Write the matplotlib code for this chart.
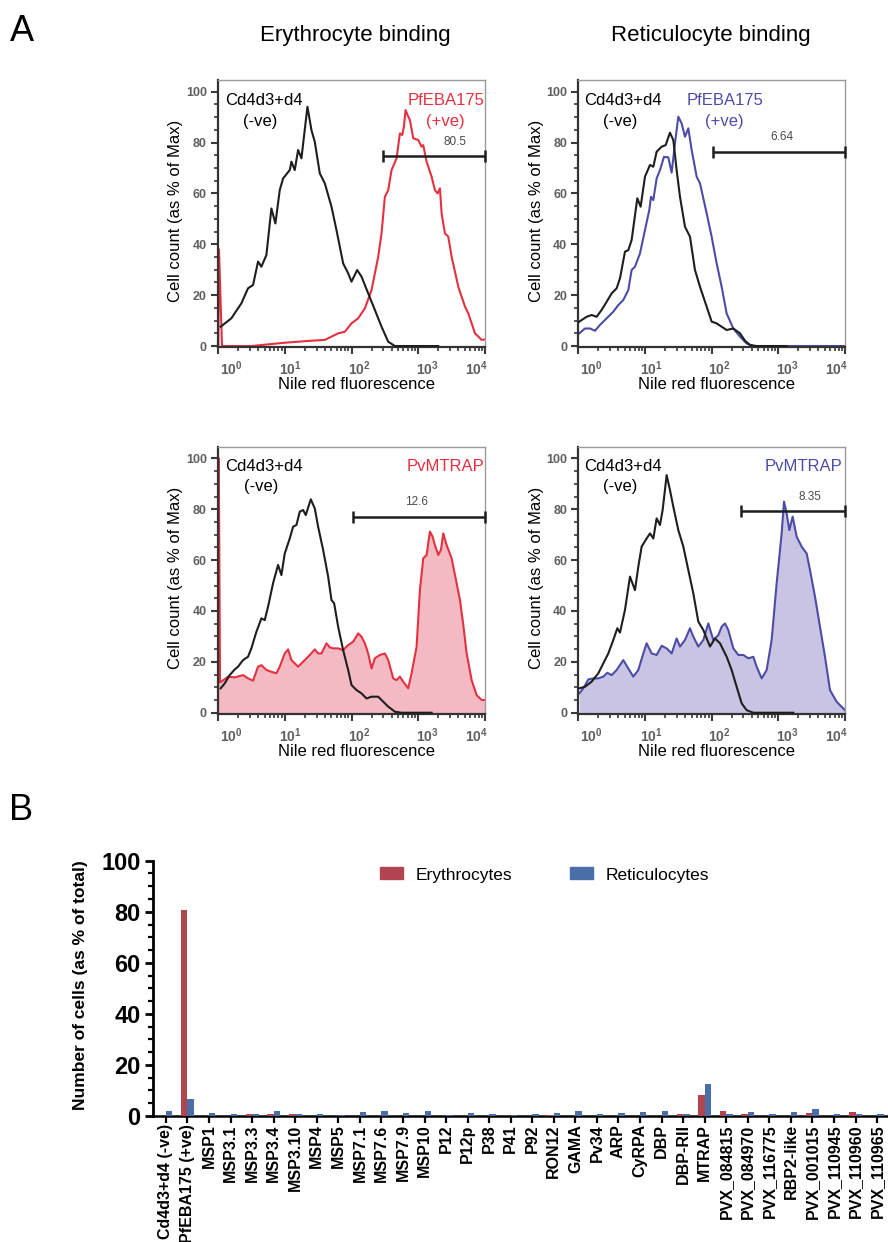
import numpy as np
import matplotlib
matplotlib.use("Agg")
import matplotlib.pyplot as plt
from matplotlib.ticker import FixedLocator, MultipleLocator, NullFormatter
from matplotlib.transforms import ScaledTranslation
from matplotlib.patches import Patch

plt.rcParams["font.family"] = ["Liberation Sans", "DejaVu Sans"]
plt.rcParams["mathtext.fontset"] = "custom"
plt.rcParams["mathtext.rm"] = "Liberation Sans"
plt.rcParams["mathtext.bf"] = "Liberation Sans:bold"
plt.rcParams["mathtext.it"] = "Liberation Sans:italic"

# ---------------------------------------------------------------------------
# Flow cytometry histograms: log10(Nile red fluorescence) vs % of max
# ---------------------------------------------------------------------------
# Erythrocyte binding, control vs PfEBA175
ery_ctrl1_log = [0.04, 0.20, 0.35, 0.45, 0.525, 0.60, 0.65, 0.725, 0.80, 0.86, 0.925, 0.975,
                 1.075, 1.10, 1.15, 1.20, 1.25, 1.34, 1.40, 1.45, 1.525, 1.60, 1.70, 1.775,
                 1.875, 1.95, 2.00, 2.085, 2.15, 2.25, 2.35, 2.45, 2.55, 2.65, 3.30]
ery_ctrl1_pct = [7.6, 10.9, 16.8, 22.7, 24.0, 33.2, 31.2, 35.8, 54.1, 48.2, 61.3, 65.9,
                 69.2, 72.5, 69.2, 77.1, 73.8, 94.1, 84.9, 80.3, 67.9, 64.0, 54.8, 45.6,
                 32.5, 28.6, 25.3, 29.9, 27.3, 20.7, 14.2, 7.6, 1.7, 0.0, 0.0]
ery_eba_log = [0.005, 0.015, 0.06, 0.5, 1.0, 1.4, 1.6, 1.8, 1.9, 2.0, 2.1, 2.2, 2.3, 2.4,
               2.45, 2.5, 2.55, 2.6, 2.675, 2.725, 2.76, 2.785, 2.81, 2.85, 2.875, 2.925,
               3.0, 3.05, 3.075, 3.125, 3.2, 3.25, 3.29, 3.325, 3.35, 3.4, 3.45, 3.5, 3.6,
               3.7, 3.75, 3.85, 3.95, 4.0]
ery_eba_pct = [0.0, 38.0, 0.0, 0.0, 1.3, 2.1, 2.4, 5.0, 5.6, 8.9, 10.9, 14.8, 22.0, 35.1,
               44.3, 58.7, 61.3, 69.2, 73.8, 83.6, 83.0, 86.2, 92.8, 90.2, 88.9, 81.7,
               81.0, 78.4, 79.0, 72.5, 66.6, 61.3, 60.0, 62.0, 52.2, 44.3, 43.0, 35.1, 23.3,
               15.5, 12.8, 5.0, 2.4, 2.6]

# Reticulocyte binding, control vs PfEBA175
ret_ctrl1_log = [0.015, 0.125, 0.2, 0.275, 0.35, 0.425, 0.5, 0.575, 0.625, 0.7, 0.75, 0.8,
                 0.885, 0.935, 1.0, 1.075, 1.125, 1.175, 1.25, 1.31, 1.375, 1.425, 1.475,
                 1.525, 1.6, 1.675, 1.75, 1.825, 1.925, 2.0, 2.075, 2.15, 2.225, 2.325,
                 2.425, 2.5, 2.575, 2.675, 3.125]
ret_ctrl1_pct = [9.6, 11.5, 12.2, 11.5, 14.2, 17.4, 20.7, 22.7, 26.6, 37.1, 37.7, 41.7,
                 58.1, 54.8, 66.6, 71.2, 70.5, 76.4, 78.4, 79.0, 83.9, 81.0, 69.2,
                 58.7, 46.9, 43.0, 29.9, 23.3, 15.5, 9.6, 8.9, 7.6, 6.3, 6.9,
                 5.0, 2.1, 0.4, 0.0, 0.0]
ret_eba_log = [0.015, 0.1, 0.175, 0.25, 0.325, 0.425, 0.525, 0.6, 0.675, 0.75, 0.8, 0.85,
               0.925, 1.0, 1.065, 1.09, 1.125, 1.175, 1.225, 1.285, 1.35, 1.4, 1.45, 1.5,
               1.55, 1.6, 1.65, 1.7, 1.775, 1.825, 1.925, 2.0, 2.075, 2.15, 2.225, 2.325,
               2.425, 2.525, 2.625, 4.0]
ret_eba_pct = [5.0, 6.9, 6.9, 6.0, 8.3, 10.9, 13.5, 16.1, 18.1, 22.0, 29.9, 31.2,
               36.4, 45.6, 53.5, 58.7, 57.4, 65.9, 69.2, 74.4, 74.2, 68.2, 79.7, 90.2,
               87.5, 82.3, 85.6, 77.1, 66.6, 64.0, 52.2, 43.0, 32.5, 23.3, 12.8, 6.9,
               3.7, 1.0, 0.0, 0.0]

# Erythrocyte binding, control vs PvMTRAP
ery_ctrl2_log = [0.04, 0.1, 0.175, 0.25, 0.3, 0.375, 0.45, 0.5, 0.575, 0.65, 0.7, 0.75,
                 0.825, 0.9, 0.95, 1.0, 1.075, 1.125, 1.175, 1.225, 1.275, 1.315, 1.39,
                 1.45, 1.5, 1.575, 1.65, 1.7, 1.74, 1.8, 1.875, 1.95, 2.0, 2.075, 2.15,
                 2.225, 2.3, 2.4, 2.45, 2.55, 2.65, 2.75, 3.2]
ery_ctrl2_pct = [9.6, 11.5, 14.8, 17.0, 18.1, 20.7, 22.0, 25.3, 31.8, 37.1, 36.4, 41.7,
                 50.9, 58.1, 54.1, 62.6, 68.5, 73.1, 73.8, 79.0, 79.7, 77.7, 83.9,
                 80.3, 73.1, 64.0, 53.5, 44.3, 43.0, 33.8, 24.6, 16.8, 10.9, 8.9, 7.6,
                 5.6, 6.3, 6.3, 5.0, 2.4, 0.4, 0.0, 0.0]
ery_mtrap_log = [0.0, 0.012, 0.03, 0.05, 0.15, 0.25, 0.375, 0.45, 0.525, 0.6, 0.65, 0.725,
                 0.8, 0.875, 0.925, 1.0, 1.05, 1.1, 1.2, 1.3, 1.375, 1.45, 1.5, 1.55,
                 1.625, 1.675, 1.725, 1.8, 1.875, 1.95, 2.025, 2.1, 2.15, 2.2, 2.25, 2.3,
                 2.35, 2.425, 2.5, 2.55, 2.625, 2.675, 2.725, 2.775, 2.85, 2.9, 2.975,
                 3.025, 3.075, 3.125, 3.175, 3.215, 3.25, 3.3, 3.34, 3.375, 3.425, 3.5,
                 3.575, 3.625, 3.675, 3.725, 3.8, 3.875, 3.95, 4.0]
ery_mtrap_pct = [0.0, 100.0, 12.0, 12.2, 14.2, 13.9, 14.8, 13.5, 12.6, 18.1, 18.7, 16.8,
                 16.1, 15.5, 18.1, 23.3, 24.9, 20.7, 18.1, 20.7, 22.7, 24.9, 23.3, 23.3,
                 27.3, 25.7, 25.3, 25.3, 24.6, 26.6, 27.9, 31.2, 29.9, 27.3, 23.3, 17.4,
                 21.4, 22.7, 23.3, 20.7, 13.5, 12.8, 14.2, 12.2, 9.6, 15.5, 25.9,
                 48.2, 60.7, 62.0, 71.2, 69.2, 65.9, 62.0, 64.0, 70.5, 65.9, 60.7,
                 50.9, 44.3, 34.5, 23.3, 12.8, 6.9, 5.0, 5.0]

# Reticulocyte binding, control vs PvMTRAP
ret_ctrl2_log = [0.015, 0.1, 0.2, 0.3, 0.375, 0.45, 0.525, 0.585, 0.625, 0.7, 0.775, 0.85,
                 0.9, 0.95, 1.025, 1.075, 1.125, 1.175, 1.225, 1.265, 1.325, 1.375, 1.425,
                 1.5, 1.575, 1.65, 1.725, 1.8, 1.875, 1.975, 2.05, 2.125, 2.225, 2.3,
                 2.375, 2.45, 2.525, 2.625, 3.225]
ret_ctrl2_pct = [9.6, 10.2, 12.2, 15.5, 19.4, 23.3, 28.6, 33.2, 31.5, 40.4, 53.5, 48.2,
                 57.4, 65.3, 68.5, 70.5, 68.5, 76.4, 73.8, 79.7, 93.4, 87.5, 81.0,
                 71.8, 65.3, 56.1, 46.9, 35.8, 32.5, 26.0, 29.2, 27.3, 22.0, 16.8,
                 10.2, 3.7, 1.0, 0.0, 0.0]
ret_mtrap_log = [0.015, 0.075, 0.15, 0.225, 0.3, 0.375, 0.435, 0.5, 0.575, 0.675, 0.75,
                 0.825, 0.9, 0.975, 1.025, 1.1, 1.175, 1.25, 1.325, 1.4, 1.475, 1.525,
                 1.6, 1.675, 1.725, 1.8, 1.875, 1.95, 2.025, 2.1, 2.15, 2.2, 2.25, 2.325,
                 2.4, 2.475, 2.55, 2.625, 2.675, 2.75, 2.825, 2.9, 2.975, 3.05, 3.085,
                 3.125, 3.165, 3.215, 3.275, 3.35, 3.425, 3.475, 3.55, 3.625, 3.7,
                 3.775, 3.875, 4.0]
ret_mtrap_pct = [7.6, 9.6, 13.1, 13.5, 13.5, 14.2, 15.7, 14.8, 16.8, 20.7, 17.4,
                 14.2, 16.8, 23.3, 27.3, 23.3, 22.7, 26.3, 25.3, 23.3, 29.2, 26.0,
                 28.6, 33.2, 29.9, 26.0, 28.6, 35.1, 28.6, 30.5, 33.8, 35.1, 32.5, 25.3,
                 22.7, 22.7, 21.4, 22.0, 18.1, 13.5, 16.8, 28.6, 50.9, 70.5, 83.0,
                 78.4, 71.8, 77.1, 69.2, 65.3, 62.6, 56.1, 45.6, 33.8, 22.0,
                 8.9, 4.3, 1.0]

# Gates: lower bound (log10), height (%), label position (log10, %), gated %
gate_low_log = [2.465, 2.015, 2.025, 2.435]
gate_level = [74.7, 76.4, 77.1, 79.3]
gate_text_log = [3.55, 3.05, 2.975, 3.475]
gate_text_level = [80.3, 82.3, 83.0, 84.9]
gate_pct = ["80.5", "6.64", "12.6", "8.35"]

# ---------------------------------------------------------------------------
# Bar chart: binding of each protein (as % of total cells)
# ---------------------------------------------------------------------------
proteins = ["Cd4d3+d4 (-ve)", "PfEBA175 (+ve)", "MSP1", "MSP3.1", "MSP3.3", "MSP3.4",
            "MSP3.10", "MSP4", "MSP5", "MSP7.1", "MSP7.6", "MSP7.9", "MSP10", "P12",
            "P12p", "P38", "P41", "P92", "RON12", "GAMA", "Pv34", "ARP", "CyRPA", "DBP",
            "DBP-RII", "MTRAP", "PVX_084815", "PVX_084970", "PVX_116775", "RBP2-like",
            "PVX_001015", "PVX_110945", "PVX_110960", "PVX_110965"]
erythrocytes = [0.0, 80.5, 0.0, 0.1, 0.8, 0.8, 0.8, 0.0, 0.0, 0.0, 0.0, 0.0, 0.0, 0.0,
                0.0, 0.0, 0.0, 0.0, 0.4, 0.0, 0.0, 0.0, 0.0, 0.0, 0.8, 8.35, 2.0, 0.8,
                0.0, 0.0, 1.2, 0.0, 1.6, 0.0]
reticulocytes = [2.0, 6.64, 1.2, 0.8, 0.8, 2.0, 0.8, 0.8, 0.4, 1.6, 2.0, 1.2, 2.0, 0.4,
                 1.2, 0.8, 0.4, 0.8, 1.2, 2.0, 0.8, 1.2, 1.6, 2.0, 0.8, 12.6, 0.8, 1.6,
                 0.8, 1.6, 2.7, 0.8, 0.8, 0.8]

# ---------------------------------------------------------------------------
RED_LINE, RED_FILL = "#E5303F", "#F4BAC4"
BLUE_LINE, BLUE_FILL = "#4C4CA8", "#C9C4E4"
BAR_RED, BAR_BLUE = "#B0444F", "#4A6FA8"
TICK_GREY = "#5f5f5f"

W, H = 888, 1242
fig = plt.figure(figsize=(W / 100, H / 100), dpi=100)


def px_rect(left, top, right, bottom):
    return [left / W, 1 - bottom / H, (right - left) / W, (bottom - top) / H]


def histogram(rect, ctrl, sample, color, fill, gate_i, sample_label, ylab_x, xlab_x,
              ctrl_xy, ve_xy, sample_xy, plus_xy=None):
    ax = fig.add_axes(rect)
    ax.set_xscale("log")
    xs = 10 ** np.array(sample[0])
    ys = np.array(sample[1])
    xc = 10 ** np.array(ctrl[0])
    yc = np.array(ctrl[1])
    if fill is not None:
        ax.fill_between(xs, ys, 0, color=fill, lw=0, zorder=1)
    ax.plot(xs, ys, color=color, lw=1.5, zorder=2, solid_joinstyle="round")
    ax.plot(xc, yc, color="#1e1e1e", lw=1.5, zorder=3, solid_joinstyle="round")

    ax.set_xlim(1, 1e4)
    ax.set_ylim(-0.5, 104.5)

    # gate bar
    lo = 10 ** gate_low_log[gate_i]
    gy = gate_level[gate_i]
    ax.plot([lo, 1e4], [gy, gy], color="#1e1e1e", lw=1.8, zorder=4, clip_on=False,
            solid_capstyle="butt")
    ax.plot([lo, 1e4], [gy, gy], ls="none", marker="|", ms=8, mew=1.8,
            color="#1e1e1e", zorder=4, clip_on=False)
    ax.text(10 ** gate_text_log[gate_i], gate_text_level[gate_i], gate_pct[gate_i],
            ha="center", va="center", fontsize=8.5, color="#4a4a4a")

    # annotations
    ax.text(*ctrl_xy, "Cd4d3+d4", transform=ax.transAxes, ha="center", va="center",
            fontsize=12, color="black")
    ax.text(*ve_xy, "(-ve)", transform=ax.transAxes, ha="center", va="center",
            fontsize=12, color="black")
    ax.text(*sample_xy, sample_label, transform=ax.transAxes, ha="center", va="center",
            fontsize=12, color=color)
    if plus_xy is not None:
        ax.text(*plus_xy, "(+ve)", transform=ax.transAxes, ha="center", va="center",
                fontsize=12, color=color)

    # spines
    for s in ("top", "right"):
        ax.spines[s].set_color("#9a9a9a")
        ax.spines[s].set_linewidth(1.0)
    for s in ("left", "bottom"):
        ax.spines[s].set_color("#333333")
        ax.spines[s].set_linewidth(1.6)

    # ticks
    ax.yaxis.set_major_locator(FixedLocator([0, 20, 40, 60, 80, 100]))
    ax.yaxis.set_minor_locator(MultipleLocator(5))
    ax.set_yticklabels(["0", "20", "40", "60", "80", "100"], fontsize=9,
                       fontweight="bold", color=TICK_GREY)
    decades = [1, 10, 100, 1000, 10000]
    ax.xaxis.set_major_locator(FixedLocator(decades))
    minors = [m * d for d in decades[:-1] for m in range(2, 10)]
    ax.xaxis.set_minor_locator(FixedLocator(minors))
    ax.xaxis.set_minor_formatter(NullFormatter())
    ax.set_xticklabels([r"$\mathbf{10^{%d}}$" % k for k in range(5)], fontsize=10,
                       color=TICK_GREY)
    ax.tick_params(axis="both", which="major", direction="out", length=5, width=1.5,
                   color="#3a3a3a")
    ax.tick_params(axis="both", which="minor", direction="out", length=3, width=1.2,
                   color="#3a3a3a")
    ax.tick_params(axis="y", which="major", pad=3)
    ax.tick_params(axis="x", which="major", pad=4)
    shifts = [13, 6, 8, 9, -9]
    for lab, dx in zip(ax.get_xticklabels(), shifts):
        lab.set_transform(lab.get_transform() +
                          ScaledTranslation(dx / 100, 0, fig.dpi_scale_trans))

    ax.set_xlabel("Nile red fluorescence", fontsize=12)
    ax.xaxis.set_label_coords(xlab_x, -0.112)
    ax.set_ylabel("Cell count (as % of Max)", fontsize=12)
    ax.yaxis.set_label_coords(ylab_x, 0.51)
    return ax


histogram(px_rect(218, 80.3, 485, 347.3), (ery_ctrl1_log, ery_ctrl1_pct),
          (ery_eba_log, ery_eba_pct), RED_LINE, None, 0, "PfEBA175", -0.131, 0.52,
          (0.172, 0.926), (0.157, 0.844), (0.854, 0.926), (0.850, 0.844))
histogram(px_rect(578.3, 80.3, 845, 347.3), (ret_ctrl1_log, ret_ctrl1_pct),
          (ret_eba_log, ret_eba_pct), BLUE_LINE, None, 1, "PfEBA175", -0.129, 0.52,
          (0.168, 0.926), (0.156, 0.844), (0.549, 0.926), (0.546, 0.844))
histogram(px_rect(218, 446.9, 485, 714), (ery_ctrl2_log, ery_ctrl2_pct),
          (ery_mtrap_log, ery_mtrap_pct), RED_LINE, RED_FILL, 2, "PvMTRAP", -0.131, 0.52,
          (0.172, 0.928), (0.16, 0.85), (0.852, 0.928))
histogram(px_rect(578.3, 446.9, 845, 714), (ret_ctrl2_log, ret_ctrl2_pct),
          (ret_mtrap_log, ret_mtrap_pct), BLUE_LINE, BLUE_FILL, 3, "PvMTRAP", -0.129, 0.52,
          (0.168, 0.928), (0.158, 0.85), (0.846, 0.928))

# panel headings
fig.text(10 / W, 1 - 41 / H, "A", fontsize=26, va="baseline", ha="left")
fig.text(355 / W, 1 - 41 / H, "Erythrocyte binding", fontsize=16, va="baseline",
         ha="center")
fig.text(711 / W, 1 - 41 / H, "Reticulocyte binding", fontsize=16, va="baseline",
         ha="center")
fig.text(9 / W, 1 - 820 / H, "B", fontsize=26, va="baseline", ha="left")

# ---------------------------------------------------------------------------
axb = fig.add_axes(px_rect(153, 860.7, 887, 1116))
pos = np.arange(len(proteins))
axb.bar(pos - 0.3, erythrocytes, width=0.3, align="edge", color=BAR_RED, zorder=3)
axb.bar(pos, reticulocytes, width=0.3, align="edge", color=BAR_BLUE, zorder=3)
axb.set_xlim(-0.6, len(proteins) - 1 + 0.46)
axb.set_ylim(0, 100)
for s in ("top", "right"):
    axb.spines[s].set_visible(False)
axb.spines["left"].set_linewidth(2.0)
axb.spines["bottom"].set_linewidth(1.8)
axb.spines["bottom"].set_zorder(2)
axb.set_yticks([0, 20, 40, 60, 80, 100])
axb.yaxis.set_minor_locator(MultipleLocator(5))
axb.set_yticklabels(["0", "20", "40", "60", "80", "100"], fontsize=17,
                    fontweight="bold")
axb.tick_params(axis="y", which="major", length=6, width=2.0, pad=3)
axb.tick_params(axis="y", which="minor", length=3.5, width=1.6)
axb.set_xticks(pos)
axb.set_xticklabels(proteins, rotation=90, fontsize=11.5, fontweight="bold")
axb.tick_params(axis="x", which="major", length=5, width=1.6, pad=1)
axb.set_ylabel("Number of cells (as % of total)", fontsize=12.5, fontweight="bold")
axb.yaxis.set_label_coords(-0.0886, 0.513)

fig.legend([Patch(color=BAR_RED), Patch(color=BAR_BLUE)],
           ["Erythrocytes", "Reticulocytes"], loc="center left",
           bbox_to_anchor=(380 / W, 1 - 875 / H), ncol=2, frameon=False, fontsize=12.5,
           handlelength=1.32, handleheight=0.69, handletextpad=0.75, columnspacing=3.3,
           borderpad=0, borderaxespad=0)

fig.savefig("out.png", dpi=100)
